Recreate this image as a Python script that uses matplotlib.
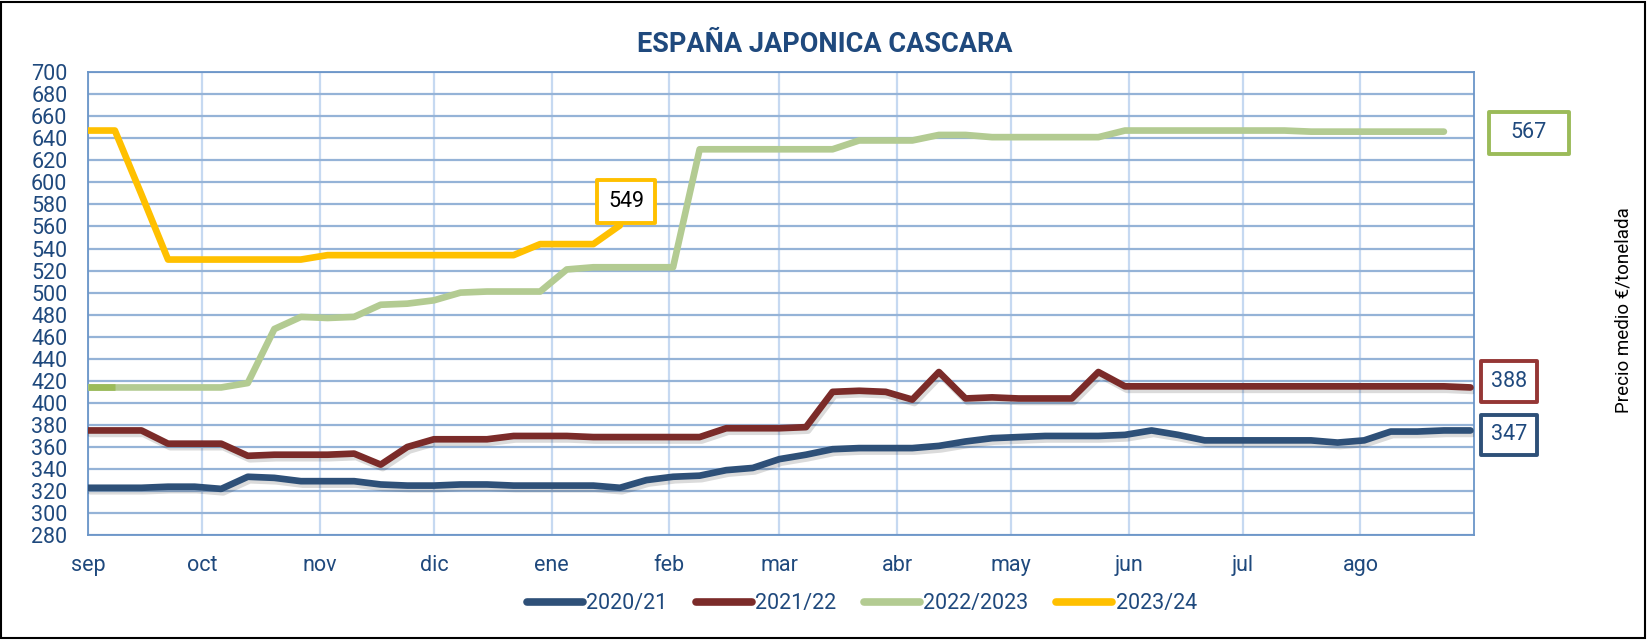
import numpy as np
import pandas as pd
import matplotlib
matplotlib.use("Agg")
import matplotlib.pyplot as plt
import matplotlib.patheffects as pe
from matplotlib.lines import Line2D
from matplotlib.patches import Rectangle

plt.rcParams['font.family'] = ['Roboto', 'DejaVu Sans']

# weekly prices (EUR/t), one value per week starting 1 Sep
s2020 = [323, 323, 323, 324, 324, 322, 333, 332, 329, 329, 329, 326, 325, 325,
         326, 326, 325, 325, 325, 325, 323, 330, 333, 334, 339, 341, 349, 353,
         358, 359, 359, 359, 361, 365, 368, 369, 370, 370, 370, 371, 375, 371,
         366, 366, 366, 366, 366, 364, 366, 374, 374, 375, 375]
s2021 = [375, 375, 375, 363, 363, 363, 352, 353, 353, 353, 354, 344, 360, 367,
         367, 367, 370, 370, 370, 369, 369, 369, 369, 369, 377, 377, 377, 378,
         410, 411, 410, 403, 428, 404, 405, 404, 404, 404, 428, 415, 415, 415,
         415, 415, 415, 415, 415, 415, 415, 415, 415, 415, 414]
s2022 = [414, 414, 414, 414, 414, 414, 418, 467, 478, 477, 478, 489, 490, 493,
         500, 501, 501, 501, 521, 523, 523, 523, 523, 630, 630, 630, 630, 630,
         630, 638, 638, 638, 643, 643, 641, 641, 641, 641, 641, 647, 647, 647,
         647, 647, 647, 647, 646, 646, 646, 646, 646, 646]
s2023 = [647, 647, 589, 530, 530, 530, 530, 530, 530, 534, 534, 534, 534, 534,
         534, 534, 534, 544, 544, 544, 561]

series_names = ['2020/21', '2021/22', '2022/2023', '2023/24']
series_colors = ['#2E5078', '#7B2B29', '#B3CB92', '#FFC000']
month_labels = ['sep', 'oct', 'nov', 'dic', 'ene', 'feb', 'mar', 'abr',
                'may', 'jun', 'jul', 'ago']
box_labels = ['347', '388', '567', '549']

weeks = pd.date_range('2023-09-01', periods=53, freq='7D')
month_starts = pd.date_range('2023-09-01', '2024-08-01', freq='MS')

W, H = 1647, 642
fig = plt.figure(figsize=(W / 100, H / 100), dpi=100)
ax = fig.add_axes([88.3 / W, 1 - 535.2 / H, (1474.3 - 88.3) / W, (535.2 - 72.1) / H])

txt_blue = '#1F497D'
shadow = [pe.SimpleLineShadow(offset=(1.5, -2.5), shadow_color='k', alpha=0.14),
          pe.Normal()]

for data, col, name in zip([s2020, s2021, s2022, s2023], series_colors, series_names):
    effects = shadow if name in ('2020/21', '2021/22') else None
    ax.plot(weeks[:len(data)], data, color=col, lw=4.8, solid_capstyle='round',
            solid_joinstyle='round', path_effects=effects, zorder=3)

# first green segment drawn darker, as in the source
ax.plot(weeks[:2], s2022[:2], color='#9BBB59', lw=4.8, solid_capstyle='butt', zorder=3)

ax.set_ylim(280, 700)
ax.set_yticks(np.arange(280, 701, 20))
ax.set_xlim(pd.Timestamp('2023-09-01'), pd.Timestamp('2024-08-31'))
ax.set_xticks(month_starts)
ax.set_xticklabels(month_labels)
ax.tick_params(axis='both', length=0, labelsize=15.5, labelcolor=txt_blue)
ax.tick_params(axis='y', pad=15)
ax.tick_params(axis='x', pad=14)

ax.set_axisbelow(True)
ax.yaxis.grid(True, color='#95B3D7', lw=1.6)
ax.xaxis.grid(True, color='#C6D9F1', lw=1.6)
for sp in ax.spines.values():
    sp.set_color('#6A95C8')
    sp.set_linewidth(1.3)

fig.text(825 / W, 1 - 44 / H, 'ESPAÑA JAPONICA CASCARA', ha='center', va='center',
         fontsize=19.5, fontweight='bold', color=txt_blue)
fig.text(1623 / W, 1 - 310 / H, 'Precio medio €/tonelada', rotation=90,
         ha='center', va='center', fontsize=13.5, color='black')

# value boxes (pixel extents)
boxes = [((1481, 415, 1537, 455), '#2E5078', txt_blue),
         ((1481, 361, 1537, 402), '#953735', txt_blue),
         ((1489, 112, 1569, 154), '#9BBB59', txt_blue),
         ((597, 180, 655, 223), '#FFC000', 'black')]
for ((x0, y0, x1, y1), ec, tc), lab in zip(boxes, box_labels):
    fig.patches.append(Rectangle((x0 / W, 1 - y1 / H), (x1 - x0) / W, (y1 - y0) / H,
                                 transform=fig.transFigure, facecolor='white',
                                 edgecolor=ec, lw=2.8, joinstyle='round', zorder=5))
    fig.text((x0 + x1) / 2 / W, 1 - (y0 + y1) / 2 / H, lab, ha='center', va='center',
             fontsize=15.5, color=tc, zorder=6)

handles = [Line2D([], [], color=c, lw=5.5, solid_capstyle='round') for c in series_colors]
fig.legend(handles, series_names, loc='center', bbox_to_anchor=(862 / W, 1 - 604 / H),
           ncol=4, frameon=False, fontsize=15.5, labelcolor=txt_blue,
           handlelength=2.6, handletextpad=0.15, columnspacing=1.3)

# outer chart border
fig.patches.append(Rectangle((1 / W, 4 / H), (W - 3) / W, (H - 6) / H,
                             transform=fig.transFigure, fill=False,
                             edgecolor='black', lw=1.5, zorder=10))

fig.savefig('out.png', dpi=100)
